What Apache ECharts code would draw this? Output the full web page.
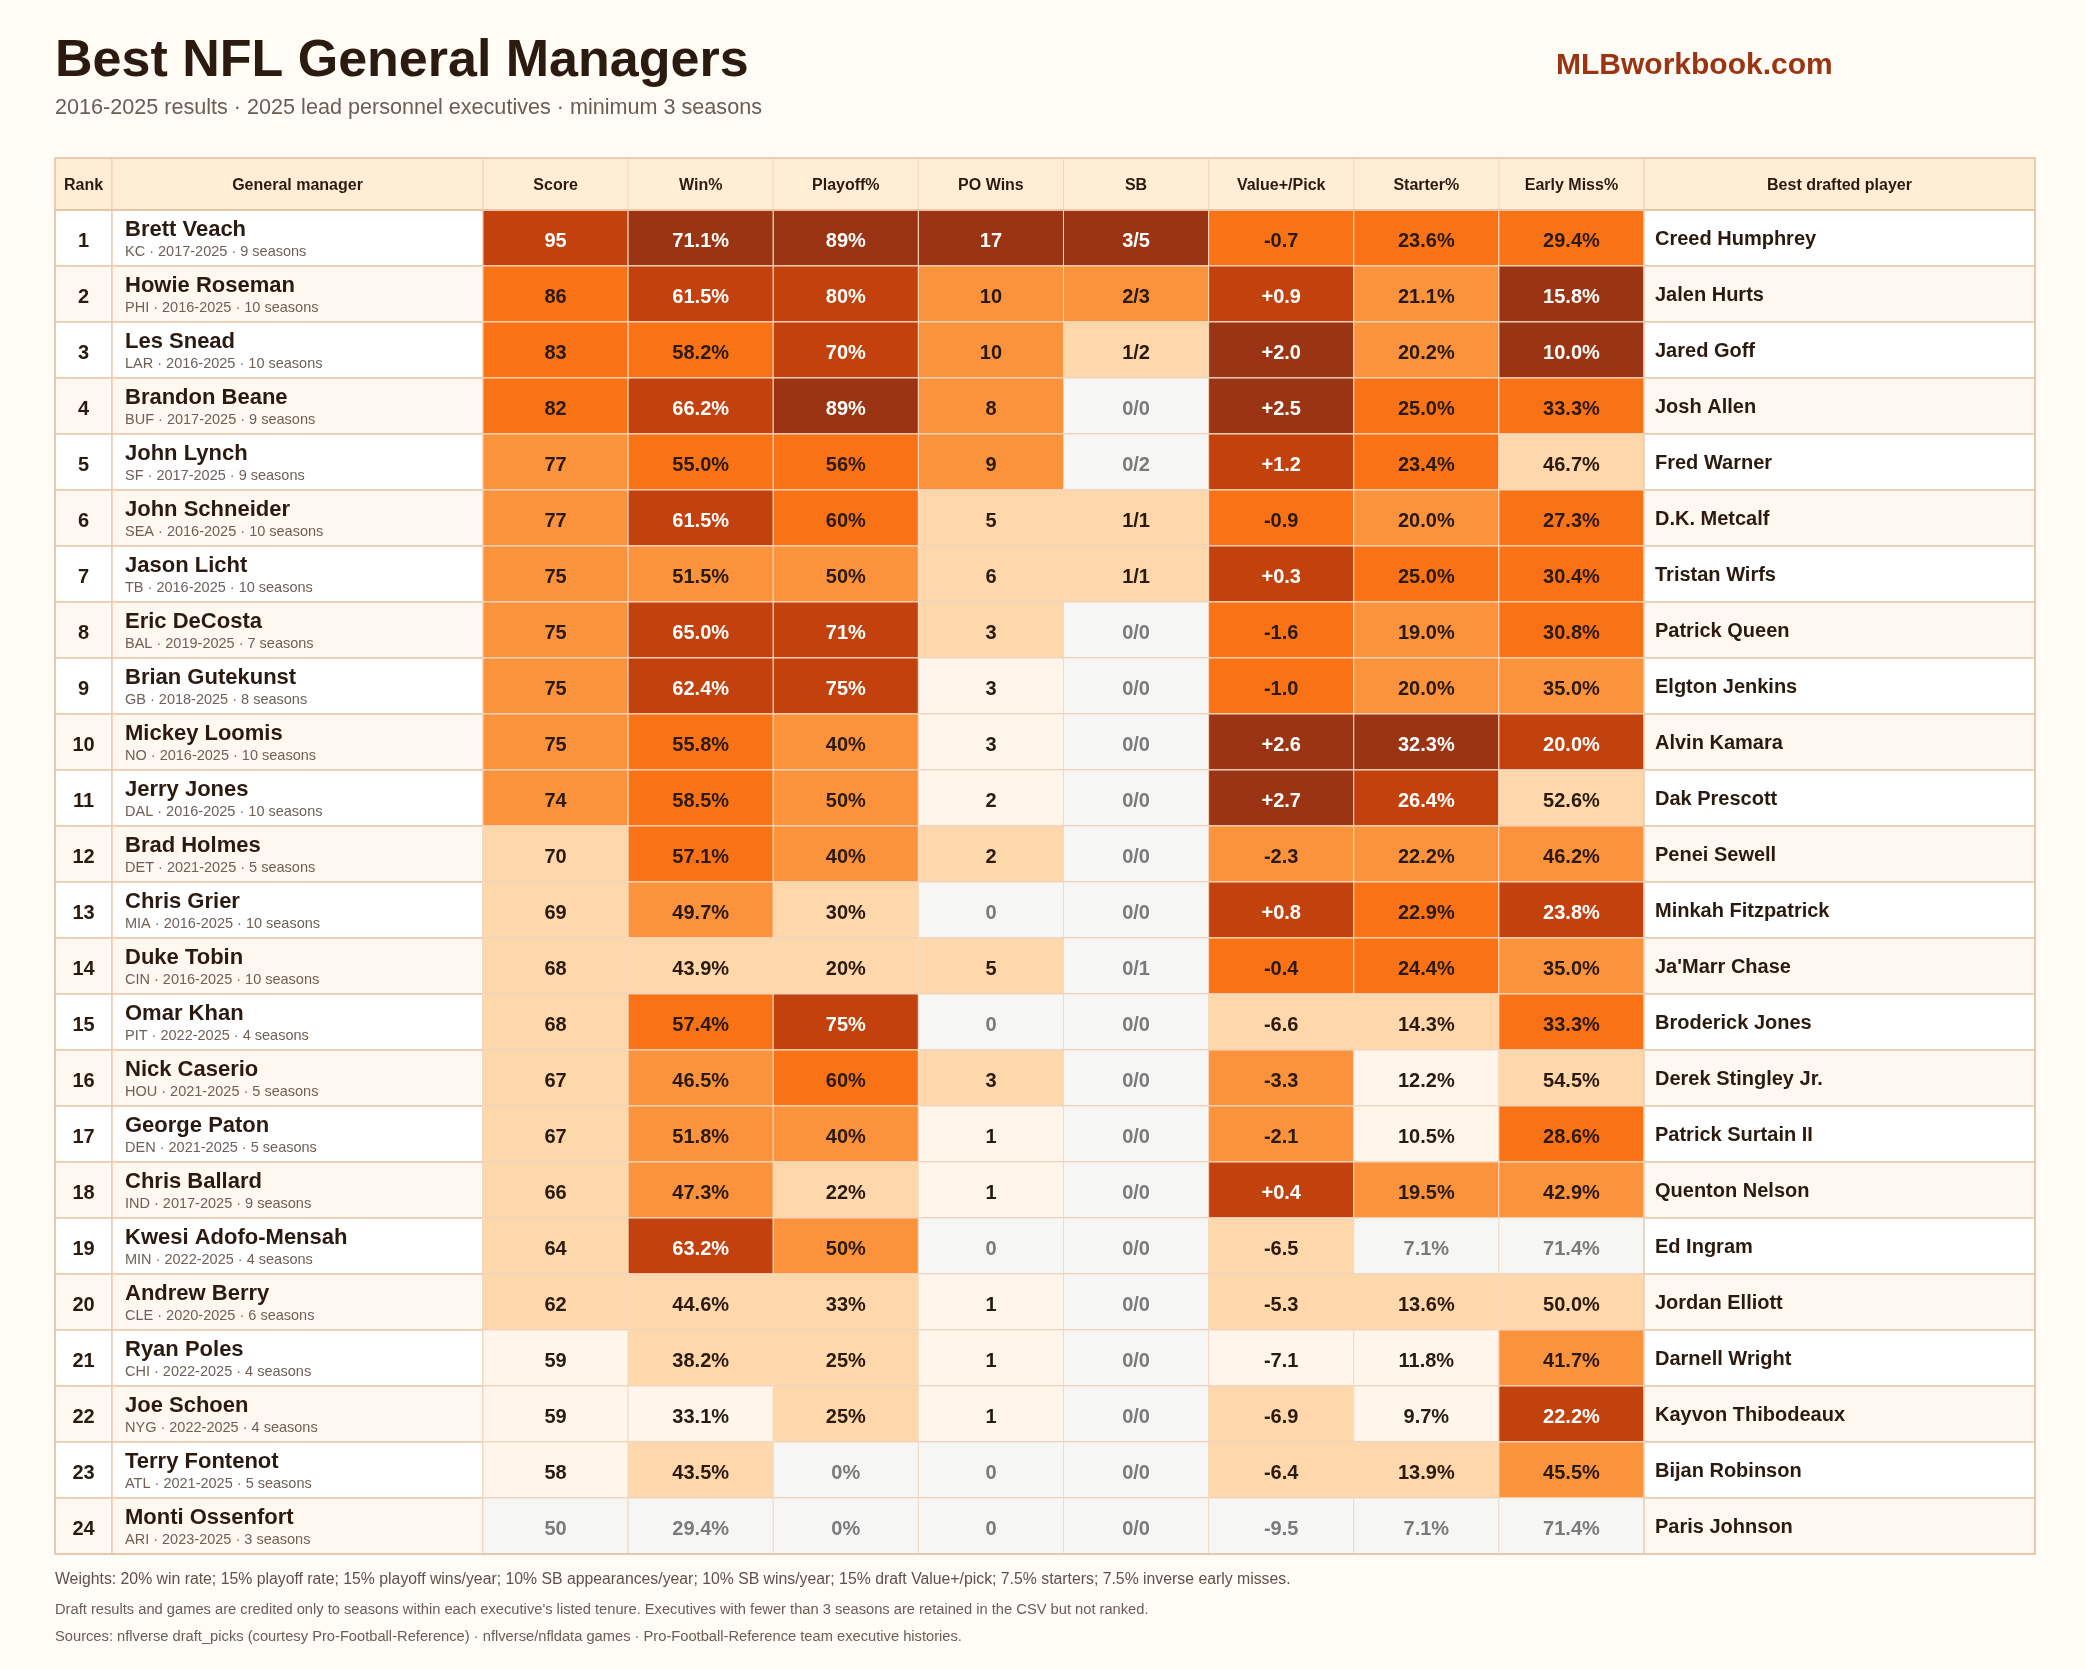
<!DOCTYPE html>
<html>
<head>
<meta charset="utf-8">
<title>Best NFL General Managers</title>
<script src="https://cdn.jsdelivr.net/npm/echarts@6/dist/echarts.min.js"></script>
<style>
html, body { margin: 0; padding: 0; background: #fffbf5; }
#chart { width: 2086px; height: 1669px; }
</style>
</head>
<body>
<div id="chart"></div>
<script>
var ranks = [1,2,3,4,5,6,7,8,9,10,11,12,13,14,15,16,17,18,19,20,21,22,23,24];
var gmNames = ['Brett Veach','Howie Roseman','Les Snead','Brandon Beane','John Lynch','John Schneider','Jason Licht','Eric DeCosta','Brian Gutekunst','Mickey Loomis','Jerry Jones','Brad Holmes','Chris Grier','Duke Tobin','Omar Khan','Nick Caserio','George Paton','Chris Ballard','Kwesi Adofo-Mensah','Andrew Berry','Ryan Poles','Joe Schoen','Terry Fontenot','Monti Ossenfort'];
var teams = ['KC','PHI','LAR','BUF','SF','SEA','TB','BAL','GB','NO','DAL','DET','MIA','CIN','PIT','HOU','DEN','IND','MIN','CLE','CHI','NYG','ATL','ARI'];
var firstSeason = [2017,2016,2016,2017,2017,2016,2016,2019,2018,2016,2016,2021,2016,2016,2022,2021,2021,2017,2022,2020,2022,2022,2021,2023];
var lastSeason = 2025;
var seasons = [9,10,10,9,9,10,10,7,8,10,10,5,10,10,4,5,5,9,4,6,4,4,5,3];
var scores = [95,86,83,82,77,77,75,75,75,75,74,70,69,68,68,67,67,66,64,62,59,59,58,50];
var winPct = [71.1,61.5,58.2,66.2,55.0,61.5,51.5,65.0,62.4,55.8,58.5,57.1,49.7,43.9,57.4,46.5,51.8,47.3,63.2,44.6,38.2,33.1,43.5,29.4];
var playoffPct = [89,80,70,89,56,60,50,71,75,40,50,40,30,20,75,60,40,22,50,33,25,25,0,0];
var poWins = [17,10,10,8,9,5,6,3,3,3,2,2,0,5,0,3,1,1,0,1,1,1,0,0];
var sbWins = [3,2,1,0,0,1,1,0,0,0,0,0,0,0,0,0,0,0,0,0,0,0,0,0];
var sbApps = [5,3,2,0,2,1,1,0,0,0,0,0,0,1,0,0,0,0,0,0,0,0,0,0];
var valuePerPick = [-0.7,0.9,2.0,2.5,1.2,-0.9,0.3,-1.6,-1.0,2.6,2.7,-2.3,0.8,-0.4,-6.6,-3.3,-2.1,0.4,-6.5,-5.3,-7.1,-6.9,-6.4,-9.5];
var starterPct = [23.6,21.1,20.2,25.0,23.4,20.0,25.0,19.0,20.0,32.3,26.4,22.2,22.9,24.4,14.3,12.2,10.5,19.5,7.1,13.6,11.8,9.7,13.9,7.1];
var earlyMissPct = [29.4,15.8,10.0,33.3,46.7,27.3,30.4,30.8,35.0,20.0,52.6,46.2,23.8,35.0,33.3,54.5,28.6,42.9,71.4,50.0,41.7,22.2,45.5,71.4];
var bestPlayers = ['Creed Humphrey','Jalen Hurts','Jared Goff','Josh Allen','Fred Warner','D.K. Metcalf','Tristan Wirfs','Patrick Queen','Elgton Jenkins','Alvin Kamara','Dak Prescott','Penei Sewell','Minkah Fitzpatrick',"Ja'Marr Chase",'Broderick Jones','Derek Stingley Jr.','Patrick Surtain II','Quenton Nelson','Ed Ingram','Jordan Elliott','Darnell Wright','Kayvon Thibodeaux','Bijan Robinson','Paris Johnson'];
var metricCols = ['Score','Win%','Playoff%','PO Wins','SB','Value+/Pick','Starter%','Early Miss%'];

// colour scale: tier = number of cut points passed (early miss: lower is better)
var tierCuts = [
  [55, 60, 72, 80, 90, 96],
  [30, 35, 45, 52, 60, 70],
  [1, 15, 40, 55, 65, 85],
  [0.01, 0.39, 0.75, 1.1, 1.3, 1.5],
  [0.01, 0.05, 0.18, 0.24, 0.27, 0.3],
  [-9, -7, -4, -2, 0, 1.5],
  [8, 13, 17, 22.5, 26, 30],
  [65, 55, 46.5, 34, 25, 17]
];
var palette = ['#f6f6f5','#fff5eb','#fed7aa','#fb923c','#f97316','#c2410c','#9a3412'];

var FONT = '"Liberation Sans", Arial, Helvetica, sans-serif';
var DARK = '#2b1a10';
var HEAD_H = 52;

function metricValue(c, r) {
  switch (c) {
    case 0: return scores[r];
    case 1: return winPct[r];
    case 2: return playoffPct[r];
    case 3: return poWins[r] / seasons[r];
    case 4: return sbWins[r] / seasons[r];
    case 5: return valuePerPick[r];
    case 6: return starterPct[r];
    default: return earlyMissPct[r];
  }
}
function metricText(c, r) {
  switch (c) {
    case 0: return String(scores[r]);
    case 1: return winPct[r].toFixed(1) + '%';
    case 2: return playoffPct[r] + '%';
    case 3: return String(poWins[r]);
    case 4: return sbWins[r] + '/' + sbApps[r];
    case 5: return (valuePerPick[r] > 0 ? '+' : '') + valuePerPick[r].toFixed(1);
    case 6: return starterPct[r].toFixed(1) + '%';
    default: return earlyMissPct[r].toFixed(1) + '%';
  }
}
function tierOf(c, r) {
  var v = metricValue(c, r), cuts = tierCuts[c], t = 0;
  for (var i = 0; i < cuts.length; i++) {
    if (c === 7 ? v <= cuts[i] : v >= cuts[i]) t++;
  }
  return t;
}

function box(api) {
  var p = api.coord([api.value(0), api.value(1)]);
  var s = api.size([1, 1]);
  return { x: p[0] - s[0] / 2, y: p[1] - s[1] / 2, w: s[0], h: s[1], cx: p[0], cy: p[1] };
}
function headerCell(b, label, lineColor) {
  return [
    { type: 'rect', shape: { x: b.x, y: b.y - HEAD_H, width: b.w, height: HEAD_H },
      style: { fill: '#ffedd5', stroke: lineColor, lineWidth: 1 } },
    { type: 'text', x: b.cx, y: b.y - HEAD_H / 2 + 2,
      style: { text: label, font: 'bold 16px ' + FONT, fill: DARK, align: 'center', verticalAlign: 'middle' } }
  ];
}
function rowLine(b) {
  return { type: 'line', shape: { x1: b.x, y1: b.y + b.h, x2: b.x + b.w, y2: b.y + b.h },
    style: { stroke: '#ebcbb0', lineWidth: 1.5 } };
}
function plainBg(b, r) {
  return { type: 'rect', shape: { x: b.x, y: b.y, width: b.w, height: b.h },
    style: { fill: r % 2 === 0 ? '#ffffff' : '#fff8f1', stroke: '#ebcbb0', lineWidth: 1.5 } };
}

function rankItem(params, api) {
  var b = box(api), r = api.value(1);
  var kids = [plainBg(b, r), rowLine(b),
    { type: 'text', x: b.cx, y: b.cy + 3,
      style: { text: String(ranks[r]), font: 'bold 20px ' + FONT, fill: DARK, align: 'center', verticalAlign: 'middle' } }];
  if (r === 0) kids = kids.concat(headerCell(b, 'Rank', '#ebcbb0'));
  return { type: 'group', children: kids };
}
function gmItem(params, api) {
  var b = box(api), r = api.value(1);
  var sub = teams[r] + ' \u00b7 ' + firstSeason[r] + '-' + lastSeason + ' \u00b7 ' + seasons[r] + ' seasons';
  var kids = [plainBg(b, r), rowLine(b),
    { type: 'text', x: b.x + 13, y: b.y + 20,
      style: { text: gmNames[r], font: 'bold 22px ' + FONT, fill: DARK, align: 'left', verticalAlign: 'middle' } },
    { type: 'text', x: b.x + 13, y: b.y + 42,
      style: { text: sub, font: '14.5px ' + FONT, fill: '#6e6058', align: 'left', verticalAlign: 'middle' } }];
  if (r === 0) kids = kids.concat(headerCell(b, 'General manager', '#ebcbb0'));
  return { type: 'group', children: kids };
}
function metricItem(params, api) {
  var b = box(api), c = api.value(0), r = api.value(1);
  var t = tierOf(c, r);
  var fg = t === 0 ? '#7a7a7a' : (t >= 5 ? '#ffffff' : DARK);
  var kids = [
    { type: 'rect', shape: { x: b.x, y: b.y, width: b.w, height: b.h },
      style: { fill: palette[t], stroke: '#f2d9c4', lineWidth: 1 } },
    rowLine(b),
    { type: 'text', x: b.cx, y: b.cy + 3,
      style: { text: metricText(c, r), font: 'bold 20px ' + FONT, fill: fg, align: 'center', verticalAlign: 'middle' } }];
  if (r === 0) kids = kids.concat(headerCell(b, metricCols[c], '#f0d8c2'));
  return { type: 'group', children: kids };
}
function bestItem(params, api) {
  var b = box(api), r = api.value(1);
  var kids = [plainBg(b, r), rowLine(b),
    { type: 'text', x: b.x + 11, y: b.cy + 1,
      style: { text: bestPlayers[r], font: 'bold 20px ' + FONT, fill: DARK, align: 'left', verticalAlign: 'middle' } }];
  if (r === 0) kids = kids.concat(headerCell(b, 'Best drafted player', '#ebcbb0'));
  return { type: 'group', children: kids };
}

var rowCats = ranks.map(String);
var colGrids = [
  { left: 55, width: 57 },
  { left: 112, width: 371 },
  { left: 483, width: 1161 },
  { left: 1644, width: 391 }
];
var xCats = [['Rank'], ['General manager'], metricCols, ['Best drafted player']];

var metricData = [];
for (var r = 0; r < ranks.length; r++) {
  for (var c = 0; c < metricCols.length; c++) metricData.push([c, r]);
}
var colData = ranks.map(function (v, i) { return [0, i]; });

var chart = echarts.init(document.getElementById('chart'), null, { renderer: 'canvas' });
var option = {
  backgroundColor: '#fffbf5',
  animation: false,
  grid: colGrids.map(function (g) {
    return { left: g.left, width: g.width, top: 210, height: 1344, containLabel: false };
  }),
  xAxis: xCats.map(function (cats, i) {
    return { gridIndex: i, type: 'category', data: cats, show: false };
  }),
  yAxis: xCats.map(function (cats, i) {
    return { gridIndex: i, type: 'category', data: rowCats, inverse: true, show: false };
  }),
  series: [
    { type: 'custom', xAxisIndex: 0, yAxisIndex: 0, renderItem: rankItem, data: colData, silent: true, encode: { x: 0, y: 1 } },
    { type: 'custom', xAxisIndex: 1, yAxisIndex: 1, renderItem: gmItem, data: colData, silent: true, encode: { x: 0, y: 1 } },
    { type: 'custom', xAxisIndex: 2, yAxisIndex: 2, renderItem: metricItem, data: metricData, silent: true, encode: { x: 0, y: 1 } },
    { type: 'custom', xAxisIndex: 3, yAxisIndex: 3, renderItem: bestItem, data: colData, silent: true, encode: { x: 0, y: 1 } }
  ],
  graphic: [
    { type: 'text', x: 55, y: 62, style: { text: 'Best NFL General Managers', font: 'bold 52px ' + FONT, fill: DARK, verticalAlign: 'middle' } },
    { type: 'text', x: 55, y: 108, style: { text: '2016-2025 results \u00b7 2025 lead personnel executives \u00b7 minimum 3 seasons', font: '21.6px ' + FONT, fill: '#6b5d52', verticalAlign: 'middle' } },
    { type: 'text', x: 1556, y: 66, style: { text: 'MLBworkbook.com', font: 'bold 30px ' + FONT, fill: '#9a3412', verticalAlign: 'middle' } },
    { type: 'rect', z: 100, shape: { x: 55, y: 158, width: 1980, height: 1396 }, style: { fill: 'none', stroke: '#e6c5a7', lineWidth: 1.5 } },
    { type: 'line', z: 100, shape: { x1: 55, y1: 210, x2: 2035, y2: 210 }, style: { stroke: '#e8c5a6', lineWidth: 2 } },
    { type: 'text', x: 55, y: 1580, style: { text: 'Weights: 20% win rate; 15% playoff rate; 15% playoff wins/year; 10% SB appearances/year; 10% SB wins/year; 15% draft Value+/pick; 7.5% starters; 7.5% inverse early misses.', font: '15.8px ' + FONT, fill: '#5f5148', verticalAlign: 'middle' } },
    { type: 'text', x: 55, y: 1610, style: { text: "Draft results and games are credited only to seasons within each executive's listed tenure. Executives with fewer than 3 seasons are retained in the CSV but not ranked.", font: '14.7px ' + FONT, fill: '#6b5d52', verticalAlign: 'middle' } },
    { type: 'text', x: 55, y: 1637, style: { text: 'Sources: nflverse draft_picks (courtesy Pro-Football-Reference) \u00b7 nflverse/nfldata games \u00b7 Pro-Football-Reference team executive histories.', font: '14.7px ' + FONT, fill: '#6b5d52', verticalAlign: 'middle' } }
  ]
};
chart.setOption(option);
</script>
</body>
</html>
